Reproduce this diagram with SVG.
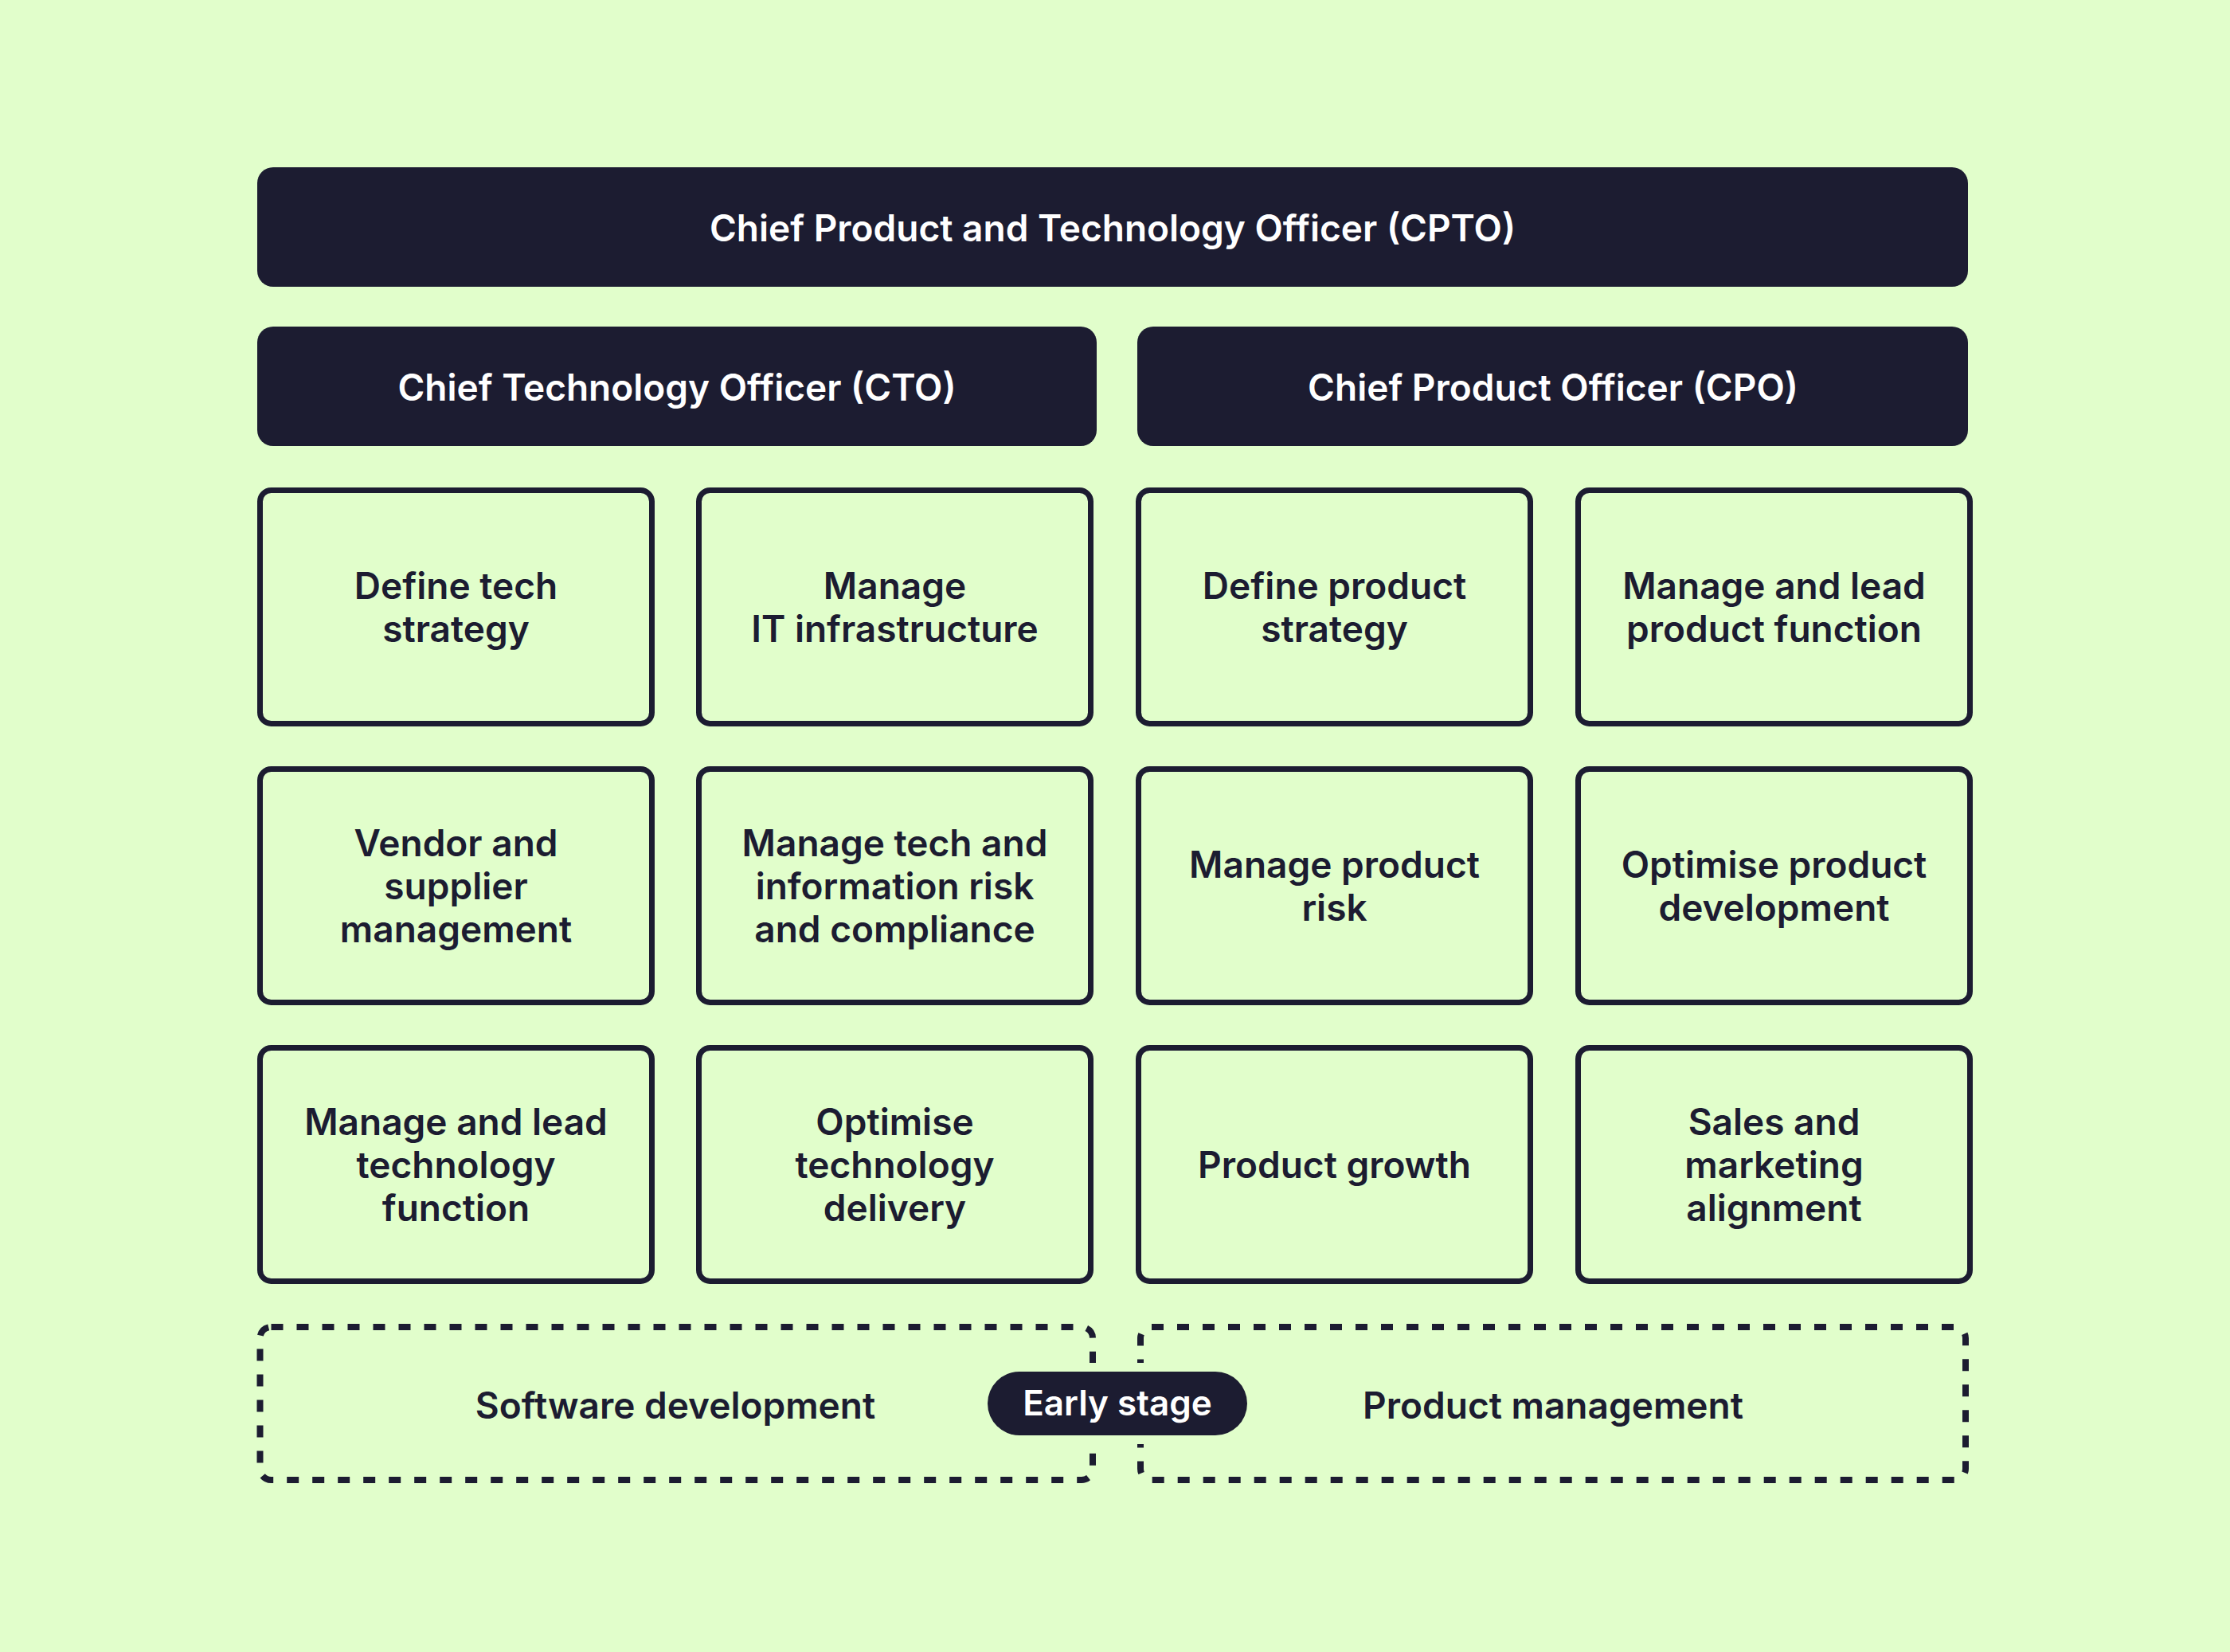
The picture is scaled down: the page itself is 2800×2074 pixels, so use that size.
<svg xmlns="http://www.w3.org/2000/svg" width="2800" height="2074" viewBox="0 0 2800 2074">
<style>
.bg{fill:#e1fecb}
.dark{fill:#1c1c31}
.box{fill:none;stroke:#1c1c31;stroke-width:7}
.dash{fill:none;stroke:#1c1c31;stroke-width:8;stroke-dasharray:15 17}
.t{font-family:Inter,"Noto Sans","Liberation Sans",sans-serif;font-size:46px;font-weight:600;fill:#1c1c31;text-anchor:middle}
.w{fill:#ffffff}
</style>
<rect class="bg" x="0" y="0" width="2800" height="2074"/>
<g id="cpto"><rect class="dark" x="323" y="210" width="2148" height="150" rx="20"/><text class="t w" x="1397" y="303">Chief Product and Technology Officer (CPTO)</text></g>
<g id="cto"><rect class="dark" x="323" y="410" width="1054" height="150" rx="20"/><text class="t w" x="850" y="503">Chief Technology Officer (CTO)</text></g>
<g id="cpo"><rect class="dark" x="1428" y="410" width="1043" height="150" rx="20"/><text class="t w" x="1950" y="503">Chief Product Officer (CPO)</text></g>

<g id="n1"><rect class="box" x="326.5" y="615.5" width="492" height="293" rx="14"/><text class="t" x="572.5" y="752">Define tech</text><text class="t" x="572.5" y="806">strategy</text></g>
<g id="n2"><rect class="box" x="877.5" y="615.5" width="492" height="293" rx="14"/><text class="t" x="1123.5" y="752">Manage</text><text class="t" x="1123.5" y="806">IT infrastructure</text></g>
<g id="n3"><rect class="box" x="1429.5" y="615.5" width="492" height="293" rx="14"/><text class="t" x="1675.5" y="752">Define product</text><text class="t" x="1675.5" y="806">strategy</text></g>
<g id="n4"><rect class="box" x="1981.5" y="615.5" width="492" height="293" rx="14"/><text class="t" x="2227.5" y="752">Manage and lead</text><text class="t" x="2227.5" y="806">product function</text></g>

<g id="n5"><rect class="box" x="326.5" y="965.5" width="492" height="293" rx="14"/><text class="t" x="572.5" y="1075">Vendor and</text><text class="t" x="572.5" y="1129">supplier</text><text class="t" x="572.5" y="1183">management</text></g>
<g id="n6"><rect class="box" x="877.5" y="965.5" width="492" height="293" rx="14"/><text class="t" x="1123.5" y="1075">Manage tech and</text><text class="t" x="1123.5" y="1129">information risk</text><text class="t" x="1123.5" y="1183">and compliance</text></g>
<g id="n7"><rect class="box" x="1429.5" y="965.5" width="492" height="293" rx="14"/><text class="t" x="1675.5" y="1102">Manage product</text><text class="t" x="1675.5" y="1156">risk</text></g>
<g id="n8"><rect class="box" x="1981.5" y="965.5" width="492" height="293" rx="14"/><text class="t" x="2227.5" y="1102">Optimise product</text><text class="t" x="2227.5" y="1156">development</text></g>

<g id="n9"><rect class="box" x="326.5" y="1315.5" width="492" height="293" rx="14"/><text class="t" x="572.5" y="1425">Manage and lead</text><text class="t" x="572.5" y="1479">technology</text><text class="t" x="572.5" y="1533">function</text></g>
<g id="n10"><rect class="box" x="877.5" y="1315.5" width="492" height="293" rx="14"/><text class="t" x="1123.5" y="1425">Optimise</text><text class="t" x="1123.5" y="1479">technology</text><text class="t" x="1123.5" y="1533">delivery</text></g>
<g id="n11"><rect class="box" x="1429.5" y="1315.5" width="492" height="293" rx="14"/><text class="t" x="1675.5" y="1479">Product growth</text></g>
<g id="n12"><rect class="box" x="1981.5" y="1315.5" width="492" height="293" rx="14"/><text class="t" x="2227.5" y="1425">Sales and</text><text class="t" x="2227.5" y="1479">marketing</text><text class="t" x="2227.5" y="1533">alignment</text></g>

<g id="software"><rect class="dash" x="326.5" y="1666" width="1045.5" height="192" rx="14"/><text class="t" x="848" y="1781">Software development</text></g>
<g id="product"><rect class="dash" x="1432" y="1666" width="1036" height="192" rx="14"/><text class="t" x="1950" y="1781">Product management</text></g>
<g id="early"><rect class="bg" x="1229" y="1711" width="348" height="102" rx="51"/><rect class="dark" x="1240" y="1722" width="326" height="80" rx="40"/><text class="t w" x="1403" y="1777" style="font-size:44px">Early stage</text></g>
<g id="connectors"></g>
</svg>
